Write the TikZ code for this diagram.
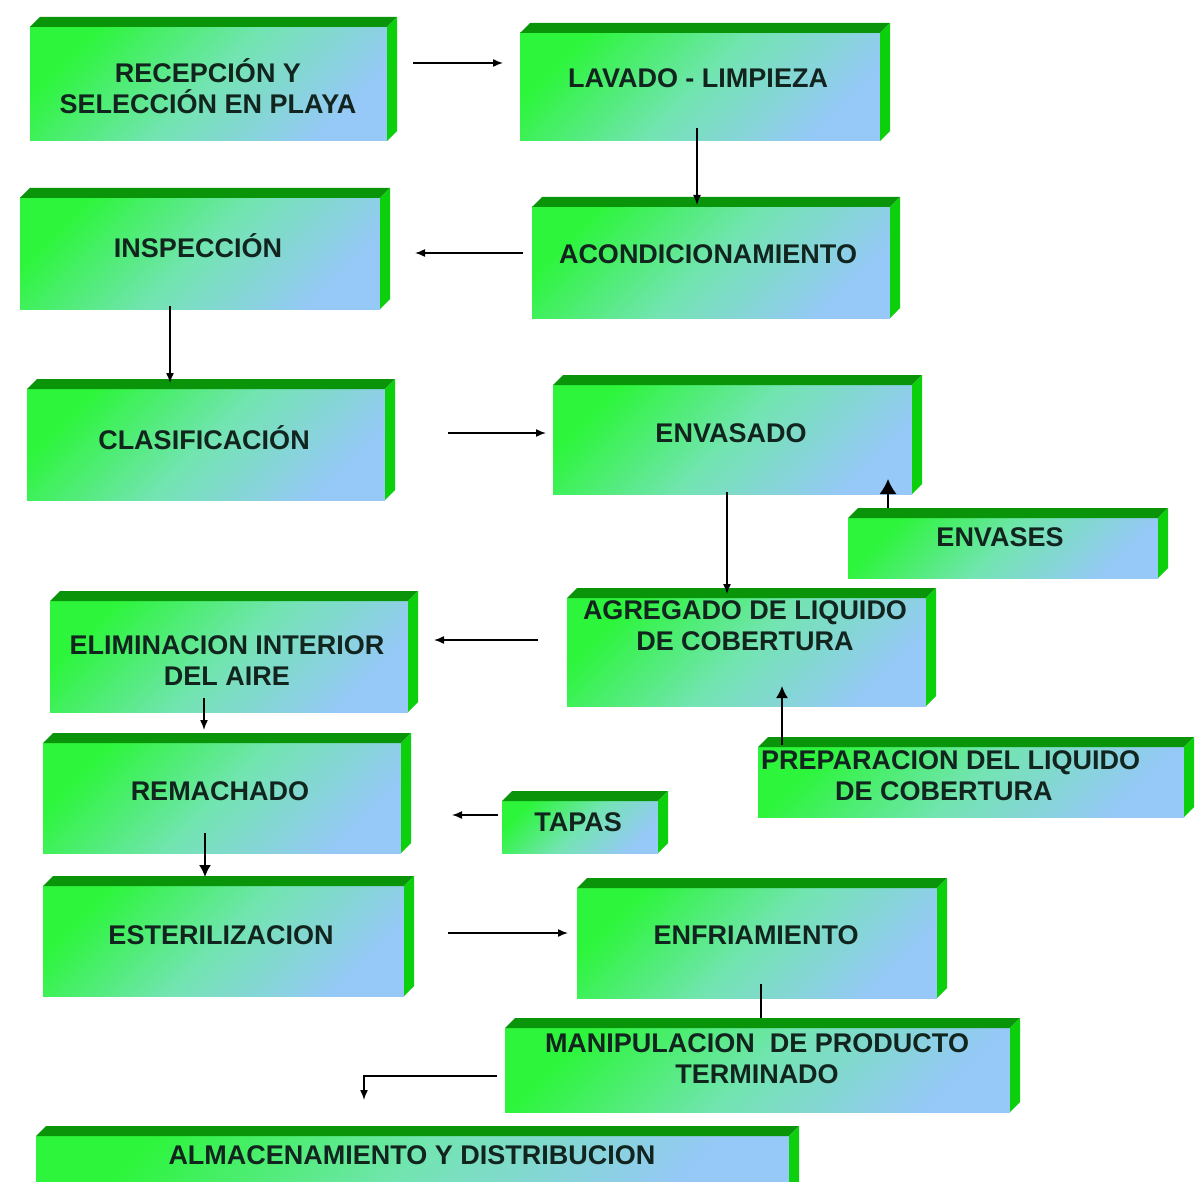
\documentclass[tikz,border=0pt]{standalone}
\usepackage{fontspec}
\setmainfont{Liberation Sans}
\usetikzlibrary{arrows.meta,calc}
\definecolor{gA}{RGB}{45,245,60}
\definecolor{gM}{RGB}{115,228,178}
\definecolor{gB}{RGB}{150,200,248}
\definecolor{topg}{RGB}{10,148,10}
\definecolor{sideg}{RGB}{12,208,12}
\definecolor{txt}{RGB}{18,36,30}
\tikzset{
  front/.style={draw=none, inner sep=0pt, outer sep=0pt,
    top color=gA, bottom color=gB, middle color=gM, shading angle=45},
  lbl/.style={font=\fontsize{27}{31}\selectfont\bfseries, text=txt, align=center, inner sep=0pt},
  arr/.style={line width=1.5pt, -{Latex[length=10pt,width=8pt]}},
  bigarr/.style={line width=1.7pt, -{Latex[length=15pt,width=17pt]}},
  medarr/.style={line width=1.7pt, -{Latex[length=12pt,width=12pt]}},
  plain/.style={line width=1.5pt}
}
\newcommand\procbox[5]{%
  \node[front, minimum width={#4pt-#2pt}, minimum height={#5pt-#3pt}] (#1) at ({(#2+#4)/2},{(#3+#5)/2}) {};
  \fill[topg] (#1.north west) -- ++(10,-10) -- ([shift={(10,-10)}]#1.north east) -- (#1.north east) -- cycle;
  \fill[sideg] (#1.north east) -- ++(10,-10) -- ([shift={(10,-10)}]#1.south east) -- (#1.south east) -- cycle;
}
\begin{document}
\begin{tikzpicture}[x=1pt,y=-1pt]
\fill[white] (0,0) rectangle (1196,1182);
\useasboundingbox (0,0) rectangle (1196,1182);

\procbox{recep}{30}{27}{387}{141}
\procbox{lavado}{520}{33}{880}{141}
\procbox{inspec}{20}{198}{380}{309}
\procbox{acond}{532}{207}{890}{318}
\procbox{clasif}{27}{389}{385}{500}
\procbox{envasado}{553}{385}{912}{494}
\procbox{envases}{848}{518}{1158}{578}
\procbox{agreg}{567}{598}{926}{706}
\procbox{elimin}{50}{601}{408}{712}
\procbox{remach}{43}{743}{401}{853}
\procbox{tapas}{502}{801}{658}{853}
\procbox{prepar}{758}{747}{1184}{817}
\procbox{ester}{43}{886}{404}{996}
\procbox{enfri}{577}{888}{937}{998}
\procbox{manip}{505}{1028}{1010}{1112}
\procbox{almac}{36}{1136}{789}{1195}

\node[lbl] (recep-t) at (208,86) {RECEPCIÓN Y\\SELECCIÓN EN PLAYA};
\node[lbl] (lavado-t) at (698,78) {LAVADO - LIMPIEZA};
\node[lbl] (inspec-t) at (198,246) {INSPECCIÓN};
\node[lbl] (acond-t) at (708,254) {ACONDICIONAMIENTO};
\node[lbl] (clasif-t) at (204,438) {CLASIFICACIÓN};
\node[lbl] (envasado-t) at (731,433) {ENVASADO};
\node[lbl] (envases-t) at (1000,537) {ENVASES};
\node[lbl] (agreg-t) at (745,626) {AGREGADO DE LIQUIDO\\DE COBERTURA};
\node[lbl] (elimin-t) at (227,661) {ELIMINACION INTERIOR\\DEL AIRE};
\node[lbl] (remach-t) at (220,791) {REMACHADO};
\node[lbl] (tapas-t) at (578,822) {TAPAS};
\node[lbl, align=left, anchor=west] (prepar-t) at (761,776) {PREPARACION DEL LIQUIDO\\\hspace*{74pt}DE COBERTURA};
\node[lbl] (ester-t) at (221,935) {ESTERILIZACION};
\node[lbl] (enfri-t) at (756,935) {ENFRIAMIENTO};
\node[lbl] (manip-t) at (757,1059) {MANIPULACION\ \ DE PRODUCTO\\TERMINADO};
\node[lbl] (almac-t) at (412,1155) {ALMACENAMIENTO Y DISTRIBUCION};

\draw[arr, shorten <=26pt, shorten >=17pt] (recep.east |- 0,63) -- (lavado.west |- 0,63);
\draw[arr, shorten <=-13pt, shorten >=2pt] (lavado.south -| 697,0) -- (acond.north -| 697,0);
\draw[arr, shorten <=9pt, shorten >=35pt] (acond.west |- 0,253) -- (inspec.east |- 0,253);
\draw[arr, shorten <=-3pt, shorten >=6pt] (inspec.south -| 170,0) -- (clasif.north -| 170,0);
\draw[arr, shorten <=63pt, shorten >=7pt] (clasif.east |- 0,433) -- (envasado.west |- 0,433);
\draw[arr, shorten <=-2pt, shorten >=4pt] (envasado.south -| 727,0) -- (agreg.north -| 727,0);
\draw[bigarr, shorten <=10pt, shorten >=-15pt] (envases.north -| 888,0) -- (envasado.south -| 888,0);
\draw[arr, shorten <=29pt, shorten >=26pt] (agreg.west |- 0,640) -- (elimin.east |- 0,640);
\draw[medarr, shorten <=2pt, shorten >=-20pt] (prepar.north -| 782,0) -- (agreg.south -| 782,0);
\draw[arr, shorten <=-14pt, shorten >=13pt] (elimin.south -| 204,0) -- (remach.north -| 204,0);
\draw[arr, shorten <=4pt, shorten >=51pt] (tapas.west |- 0,815) -- (remach.east |- 0,815);
\draw[medarr, shorten <=-20pt, shorten >=9pt] (remach.south -| 205,0) -- (ester.north -| 205,0);
\draw[arr, shorten <=44pt, shorten >=9pt] (ester.east |- 0,933) -- (enfri.west |- 0,933);
\draw[plain, shorten <=-14pt, shorten >=10pt] (enfri.south -| 761,0) -- (manip.north -| 761,0);
\draw[arr, shorten <=8pt, shorten >=36pt] (manip.west |- 0,1076) -| (almac.north -| 364,0);
\end{tikzpicture}
\end{document}
